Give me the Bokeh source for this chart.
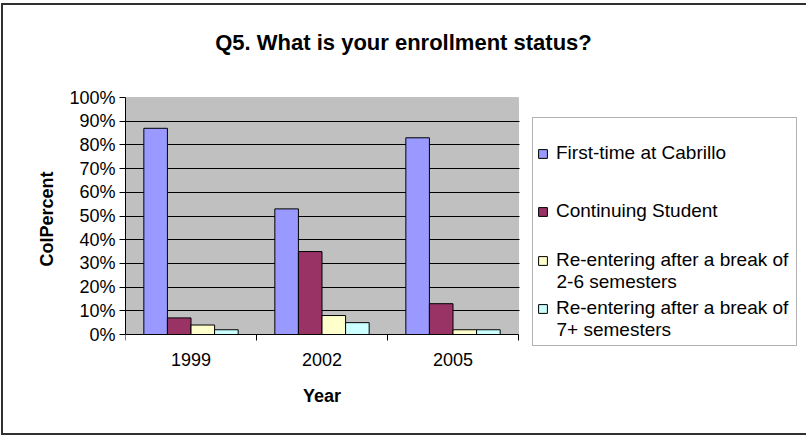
from bokeh.plotting import figure
from bokeh.models import (Range1d, FixedTicker, PrintfTickFormatter, Legend, LegendItem,
                          Label, BoxAnnotation, InlineStyleSheet)
from bokeh.embed import file_html
from bokeh.resources import INLINE

# ---- data ----
years = ["1999", "2002", "2005"]
series_names = [
    "First-time at Cabrillo",
    "Continuing Student",
    "Re-entering after a break of 2-6 semesters",
    "Re-entering after a break of 7+ semesters",
]
legend_first_lines = ["First-time at Cabrillo", "Continuing Student",
                      "Re-entering after a break of", "Re-entering after a break of"]
legend_second_lines = ["", "", "2-6 semesters", "7+ semesters"]
first_time = [87, 53, 83]
continuing = [7, 35, 13]
reenter_2_6 = [4, 8, 2]
reenter_7_plus = [2, 5, 2]
y_ticks = [0, 10, 20, 30, 40, 50, 60, 70, 80, 90, 100]
title_text = "Q5. What is your enrollment status?"
x_title = "Year"
y_title = "ColPercent"

series_values = [first_time, continuing, reenter_2_6, reenter_7_plus]
colors = ["#9999FF", "#993366", "#FFFFCC", "#CCFFFF"]
FONT = "Liberation Sans"

# ---- layout (pixels) ----
W, H = 806, 437
PLOT_L, PLOT_R, PLOT_T, PLOT_B = 125, 518, 97, 334   # plot area
FRAME_B = H                                            # frame covers everything right of the y axis
ux = (PLOT_R - PLOT_L) / len(years)                    # px per category
uy = (PLOT_B - PLOT_T) / 100.0                         # px per percent


def dx(px):
    return (px - PLOT_L) / ux


def dy(py):
    return (PLOT_B - py) / uy


frame_css = InlineStyleSheet(css="""
:host { position: relative; }
:host::after {
  content: '';
  position: absolute;
  left: 1px; top: 3px; right: 0px; bottom: 2px;
  border: 2px solid #303030;
  border-right: none;
  pointer-events: none;
}
""")

p = figure(width=W, height=H, output_backend="svg", toolbar_location=None,
           x_range=Range1d(0, dx(W)), y_range=Range1d(dy(FRAME_B), dy(0)),
           min_border_left=PLOT_L, min_border_right=0, min_border_top=0,
           min_border_bottom=0, stylesheets=[frame_css])
p.title = None
p.background_fill_color = "white"
p.border_fill_color = "white"
p.outline_line_color = None

# plot area background + border
area = BoxAnnotation(left=0, right=len(years), bottom=0, top=100,
                     fill_color="#C0C0C0", fill_alpha=1, line_color="#808080",
                     line_width=1, level="image")
p.add_layout(area)

bar_w = 0.18
offsets = [-1.5 * bar_w, -0.5 * bar_w, 0.5 * bar_w, 1.5 * bar_w]
renderers = []
for vals, off, col in zip(series_values, offsets, colors):
    xs = [i + 0.5 + off for i in range(len(years))]
    r = p.vbar(x=xs, top=vals, bottom=0, width=bar_w, fill_color=col,
               line_color="black", line_width=1)
    renderers.append(r)

# y axis
p.yaxis.bounds = (0, 100)
p.yaxis.ticker = FixedTicker(ticks=y_ticks)
p.yaxis.formatter = PrintfTickFormatter(format="%d%%")
p.yaxis.major_tick_in = 0
p.yaxis.major_tick_out = 6
p.yaxis.minor_tick_line_color = None
p.yaxis.axis_line_color = "black"
p.yaxis.major_tick_line_color = "black"
p.yaxis.major_label_text_font = FONT
p.yaxis.major_label_text_font_size = "18px"
p.yaxis.major_label_text_color = "black"
p.yaxis.major_label_standoff = 4
p.yaxis.axis_label = y_title
p.yaxis.axis_label_text_font = FONT
p.yaxis.axis_label_text_font_size = "18px"
p.yaxis.axis_label_text_font_style = "bold"
p.yaxis.axis_label_text_color = "black"
p.yaxis.axis_label_standoff = 9

# x axis (fixed at 0 %)
centers = [i + 0.5 for i in range(len(years))]
p.xaxis.fixed_location = 0
p.xaxis.bounds = (0, len(years))
p.xaxis.ticker = FixedTicker(ticks=centers, minor_ticks=list(range(len(years) + 1)))
p.xaxis.major_label_overrides = {c: y for c, y in zip(centers, years)}
p.xaxis.major_tick_line_color = None
p.xaxis.major_tick_in = 0
p.xaxis.major_tick_out = 6
p.xaxis.minor_tick_in = 0
p.xaxis.minor_tick_out = 6
p.xaxis.minor_tick_line_color = "black"
p.xaxis.axis_line_color = "black"
p.xaxis.major_label_text_font = FONT
p.xaxis.major_label_text_font_size = "18px"
p.xaxis.major_label_text_color = "black"
p.xaxis.major_label_standoff = 12

p.xgrid.grid_line_color = None
p.ygrid.ticker = FixedTicker(ticks=y_ticks[1:-1])
p.ygrid.grid_line_color = "black"
p.ygrid.grid_line_width = 1

# keep grid lines inside the plot area
p.add_layout(BoxAnnotation(left=dx(PLOT_R + 1), right=dx(W), bottom=dy(FRAME_B), top=dy(0),
                           fill_color="white", fill_alpha=1, line_color=None,
                           level="underlay"))

# x axis title
p.add_layout(Label(x=dx((PLOT_L + PLOT_R) / 2), y=dy(395), text=x_title, text_align="center",
                   text_baseline="middle", text_font=FONT, text_font_size="18px",
                   text_font_style="bold", text_color="black"))

# chart title
p.add_layout(Label(x=dx(W / 2), y=dy(42), text=title_text, text_align="center",
                   text_baseline="middle", text_font=FONT, text_font_size="22px",
                   text_font_style="bold", text_color="black"))

# legend box
p.add_layout(BoxAnnotation(left=dx(532), right=dx(796), top=dy(117), bottom=dy(345),
                           fill_color="white", fill_alpha=1, line_color="black",
                           line_width=1))

# legend entries (one per series, placed like the original)
first_line_y = [153, 211, 260, 308]
ITEM_H = 22
for name1, name2, r, ly in zip(legend_first_lines, legend_second_lines, renderers, first_line_y):
    lg = Legend(items=[LegendItem(label=name1, renderers=[r])],
                location=(537 - PLOT_L, FRAME_B - (ly + ITEM_H / 2)),
                border_line_color=None, background_fill_alpha=0,
                padding=0, margin=0, spacing=0, glyph_width=11, glyph_height=11,
                label_height=ITEM_H, label_standoff=8, label_text_font=FONT,
                label_text_font_size="19px", label_text_color="black")
    p.add_layout(lg)
    if name2:
        p.add_layout(Label(x=dx(556), y=dy(ly + 21), text=name2, text_align="left",
                           text_baseline="middle", text_font=FONT, text_font_size="19px",
                           text_color="black"))

open("out.html", "w").write(file_html(p, INLINE))
